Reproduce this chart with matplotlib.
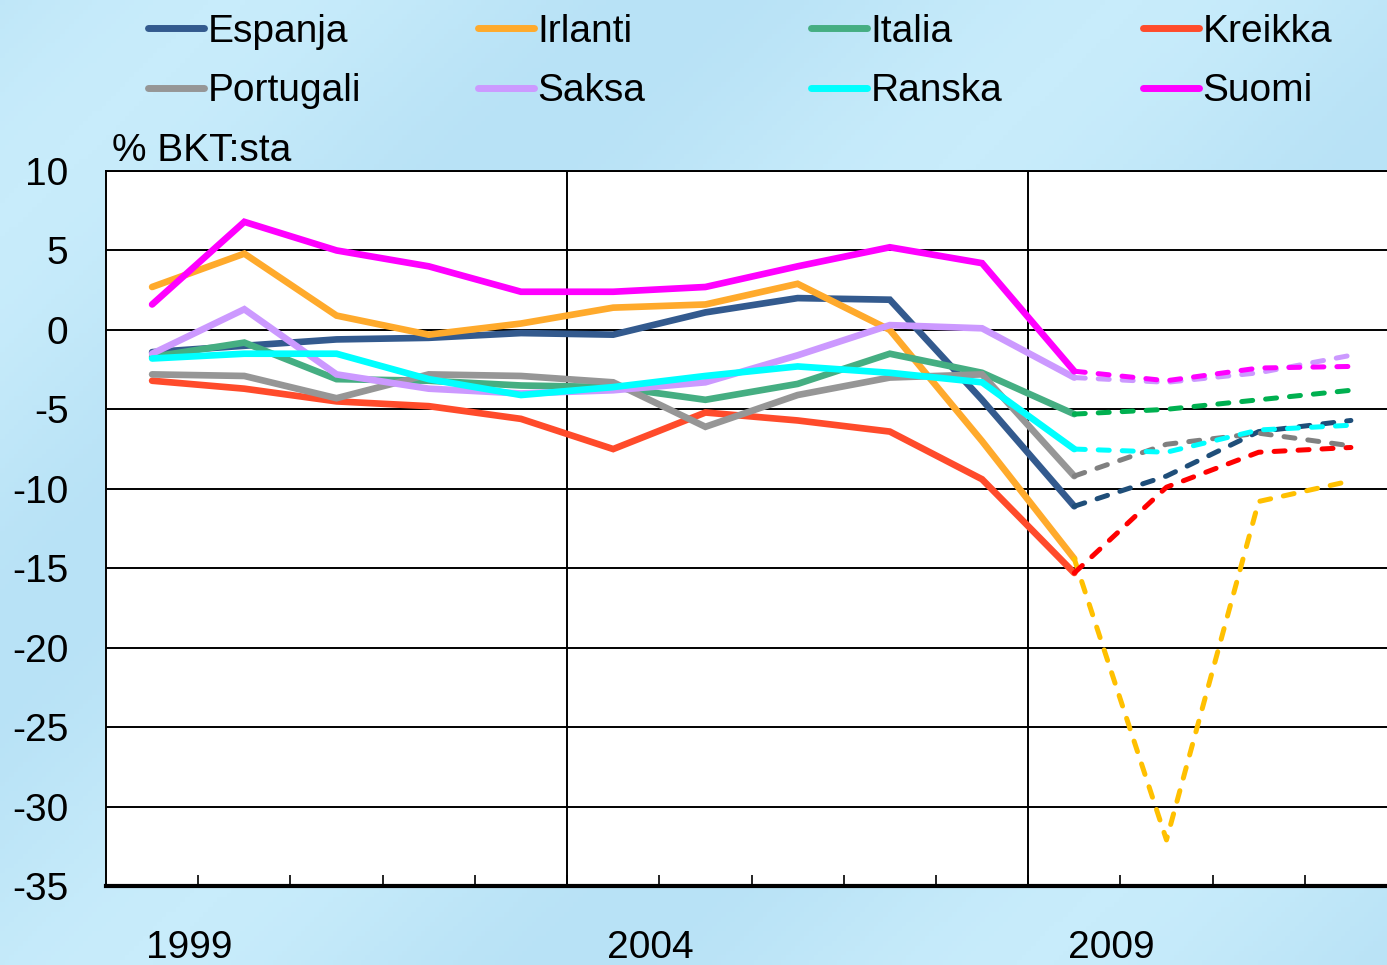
import matplotlib
matplotlib.use("Agg")
import matplotlib.pyplot as plt
import numpy as np

plt.rcParams['font.family'] = ['Liberation Sans', 'DejaVu Sans']

years = list(range(1999, 2013))
year_labels = ['1999', '2004', '2009']

espanja   = [-1.4, -1.0, -0.6, -0.5, -0.2, -0.3, 1.1, 2.0, 1.9, -4.4, -11.1, -9.2, -6.4, -5.7]
irlanti   = [2.7, 4.8, 0.9, -0.3, 0.4, 1.4, 1.6, 2.9, 0.0, -7.0, -14.4, -32.1, -10.8, -9.5]
italia    = [-1.7, -0.8, -3.1, -3.2, -3.5, -3.6, -4.4, -3.4, -1.5, -2.7, -5.3, -5.0, -4.4, -3.8]
kreikka   = [-3.2, -3.7, -4.5, -4.8, -5.6, -7.5, -5.2, -5.7, -6.4, -9.4, -15.3, -9.9, -7.7, -7.4]
portugali = [-2.8, -2.9, -4.3, -2.8, -2.9, -3.3, -6.1, -4.1, -3.0, -2.8, -9.2, -7.2, -6.5, -7.3]
saksa     = [-1.5, 1.3, -2.8, -3.7, -4.0, -3.8, -3.3, -1.6, 0.3, 0.1, -3.0, -3.3, -2.7, -1.6]
ranska    = [-1.8, -1.5, -1.5, -3.1, -4.1, -3.6, -2.9, -2.3, -2.7, -3.3, -7.5, -7.7, -6.3, -6.0]
suomi     = [1.6, 6.8, 5.0, 4.0, 2.4, 2.4, 2.7, 4.0, 5.2, 4.2, -2.6, -3.2, -2.4, -2.3]

names = ['Espanja', 'Irlanti', 'Italia', 'Kreikka', 'Portugali', 'Saksa', 'Ranska', 'Suomi']
series = [espanja, irlanti, italia, kreikka, portugali, saksa, ranska, suomi]
solid_colors = ['#335A8E', '#FFAA2C', '#45AE82', '#FF4B2B', '#969696', '#CC99FF', '#00FFFF', '#FF00FF']
dash_colors  = ['#1F4E79', '#FFC000', '#00B050', '#FF0000', '#808080', '#CC99FF', '#00FFFF', '#FF00FF']

forecast_start = 10  # 2009 onwards dashed

W, H = 1387, 965
fig = plt.figure(figsize=(W / 100, H / 100), dpi=100)
bg = '#C0E8FA'
fig.patch.set_facecolor(bg)

# subtle background shading
bgax = fig.add_axes([0, 0, 1, 1], zorder=-10)
gx, gy = np.meshgrid(np.linspace(0, 1, 300), np.linspace(0, 1, 200))
shade = 0.5 + 0.5 * np.sin(2.2 * (gx * 1.4 + gy) * np.pi)
bgax.imshow(shade, cmap=matplotlib.colors.LinearSegmentedColormap.from_list('b', ['#B8E2F6', '#C8ECFB']),
            aspect='auto', extent=[0, 1, 0, 1], alpha=1.0)
bgax.axis('off')

left = 106 / W
right = 1397 / W
bottom = 1 - 886 / H
top = 1 - 171 / H
ax = fig.add_axes([left, bottom, right - left, top - bottom])
ax.set_facecolor('white')

x = np.arange(len(years))
handles = []
for name, vals, sc, dc in zip(names, series, solid_colors, dash_colors):
    vals = np.array(vals, dtype=float)
    h, = ax.plot(x[:forecast_start + 1], vals[:forecast_start + 1], color=sc, lw=4.8,
                 solid_joinstyle='miter', solid_capstyle='round', zorder=3, label=name)
    ax.plot(x[forecast_start:], vals[forecast_start:], color=dc, lw=3.6,
            linestyle=(0, (2.2, 2.6)), dash_capstyle='round', zorder=3)
    handles.append(h)

ax.set_xlim(-0.5, len(years) - 0.5)
ax.set_ylim(-35, 10)
ax.set_yticks(np.arange(-35, 11, 5))
ax.set_yticklabels([str(v) for v in np.arange(-35, 11, 5)], fontsize=28)
ax.yaxis.grid(True, color='black', lw=1.4)
ax.set_axisbelow(True)
for xv in [4.5, 9.5]:
    ax.axvline(xv, color='black', lw=1.4, zorder=1)

ax.set_xticks([0.4, 5.4, 10.4])
ax.set_xticklabels(year_labels, fontsize=28)
ax.set_xticks(np.arange(0.5, len(years) - 0.5, 1), minor=True)
ax.tick_params(axis='x', which='major', length=0, pad=32)
ax.tick_params(axis='x', which='minor', direction='in', length=8, width=1.2, color='black')
ax.tick_params(axis='y', length=0, pad=27)

for s in ['left', 'top']:
    ax.spines[s].set_linewidth(1.4)
ax.spines['bottom'].set_linewidth(3.0)
ax.spines['right'].set_visible(False)

fig.text(112 / W, 1 - 151 / H, '% BKT:sta', fontsize=28, ha='left', va='center')

# legend: 4 columns x 2 rows
col_x = [140, 470, 803, 1135]
for c in range(4):
    hs = [handles[c], handles[c + 4]]
    leg = fig.legend(hs, [h.get_label() for h in hs], loc='upper left',
                     bbox_to_anchor=(col_x[c] / W, 1 - 6 / H), frameon=False,
                     fontsize=28, handlelength=1.45, handletextpad=0.08,
                     labelspacing=0.6, borderaxespad=0, borderpad=0.2)
    for lh in leg.get_lines():
        lh.set_linewidth(5)
        lh.set_solid_capstyle('round')

fig.savefig('out.png', dpi=100, facecolor=fig.get_facecolor())
